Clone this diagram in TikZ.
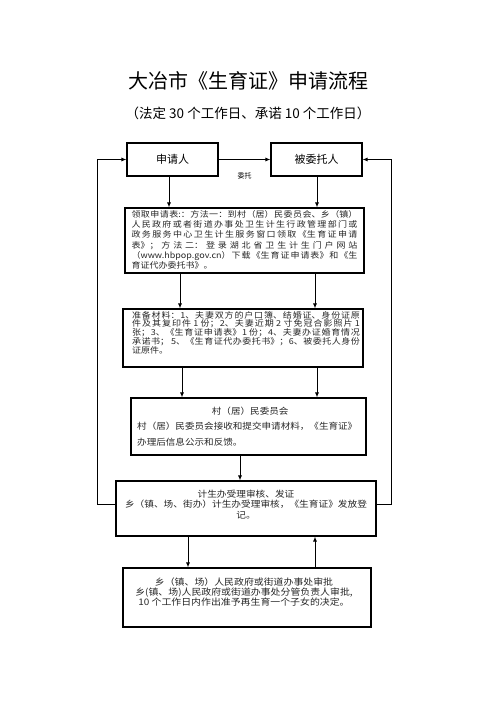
\documentclass[tikz,border=0pt]{standalone}
\usepackage{fontspec}
\setmainfont{Noto Sans CJK SC}
\newfontfamily\boxfont[FakeStretch=1.1]{Noto Sans CJK SC}
\XeTeXlinebreaklocale "zh"
\XeTeXlinebreakskip=0pt plus 4pt
\usetikzlibrary{arrows.meta}
\usetikzlibrary{positioning}

\begin{document}
\begin{tikzpicture}[x=1pt, y=-1pt,
        box/.style={draw, line width=1.1pt, inner sep=0pt},
        arr/.style={line width=0.9pt, -{Latex[length=5pt, width=4pt]}},
        txt/.style={inner sep=0pt, text=black!85}]
        \useasboundingbox (0,0) rectangle (496,702);
        % title
        \node[font=\fontsize{20pt}{24pt}\selectfont] (title) at (248,81) {大冶市《生育证》申请流程};
        \node[font=\fontsize{13.5pt}{16pt}\selectfont] (subtitle) at (248,113) {（法定 30 个工作日、承诺 10 个工作日）};
        % boxes
        \node[box, minimum width=91pt, minimum height=33pt, font=\fontsize{11pt}{13pt}\selectfont] (app) at (172.5,159.5) {申请人};
        \node[box, minimum width=91pt, minimum height=33pt, font=\fontsize{11pt}{13pt}\selectfont] (agent) at (316.5,159.5) {被委托人};
        \node[box, minimum width=239pt, minimum height=65pt] (fetch) at (244.5,240.5) {};
        \node[box, minimum width=240pt, minimum height=58pt] (prep) at (243,338) {};
        \node[box, minimum width=235pt, minimum height=57pt] (village) at (248.5,426.5) {};
        \node[box, minimum width=260pt, minimum height=55pt] (office) at (246,508.5) {};
        \node[box, minimum width=248pt, minimum height=59pt] (approve) at (247,597.5) {};
        % texts
        \node[txt, anchor=north, text width=226pt, align=justify, font=\boxfont\fontsize{8.2pt}{10.3pt}\selectfont] (fetchtxt) at (244.5,210) {%
            领取申请表:：方法一：到村（居）民委员会、乡（镇）\linebreak
            人民政府或者街道办事处卫生计生行政管理部门或\linebreak
            政务服务中心卫生计生服务窗口领取《生育证申请\linebreak
            表》；方法二：登录湖北省卫生计生门户网站\linebreak
            （www.hbpop.gov.cn）下载《生育证申请表》和《生\linebreak
            育证代办委托书》。};
        \node[txt, anchor=north, text width=228pt, align=justify, font=\boxfont\fontsize{8.2pt}{8.8pt}\selectfont] (preptxt) at (246,311) {%
            准备材料：1、夫妻双方的户口簿、结婚证、身份证原\linebreak
            件及其复印件 1 份；2、夫妻近期 2 寸免冠合影照片 1\linebreak
            张；3、《生育证申请表》1 份；4、夫妻办证婚育情况\linebreak
            承诺书；\ 5、《生育证代办委托书》；6、被委托人身份\linebreak
            证原件。};
        \node[txt, anchor=north west, text width=226pt, align=left, font=\boxfont\fontsize{8.7pt}{15.5pt}\selectfont] (villagetxt) at (137,406.5) {%
            \makebox[\hsize]{村（居）民委员会}\\
            村（居）民委员会接收和提交申请材料，《生育证》\\
            办理后信息公示和反馈。};
        \node[txt, anchor=north, align=center, font=\boxfont\fontsize{8.8pt}{10.5pt}\selectfont] (officetxt) at (246,489.5) {%
            计生办受理审核、发证\\
            乡（镇、场、街办）计生办受理审核，《生育证》发放登\\
            记。};
        \node[txt, anchor=north, align=center, font=\boxfont\fontsize{9pt}{9.8pt}\selectfont] (approvetxt) at (244,577.5) {%
            乡（镇、场）人民政府或街道办事处审批\\
            乡(镇、场)人民政府或街道办事处分管负责人审批,\\
            10 个工作日内作出准予再生育一个子女的决定。};
        % connectors
        \draw[arr] (app) -- (agent) node[midway, below=13pt, inner sep=0pt, font=\fontsize{7pt}{8pt}\selectfont] (entrust) {委托};
        \foreach \a/\b/\x in {app/fetch/169, agent/fetch/317, fetch/prep/180, fetch/prep/315, prep/village/182, prep/village/317, village/office/240, office/approve/188} {
            \coordinate (c) at (\x,0);
            \draw[arr] (\a.south -| c) -- (\b.north -| c);
        }
        \coordinate (up) at (315,0);
        \draw[arr] (approve.north -| up) -- (office.south -| up);
        \coordinate (fbL) at (97,504);
        \coordinate (fbR) at (391,504);
        \draw[arr] (office.west |- fbL) -- (fbL) |- (app.west);
        \draw[arr] (office.east |- fbR) -- (fbR) |- (agent.east);
    \end{tikzpicture}
\end{document}
